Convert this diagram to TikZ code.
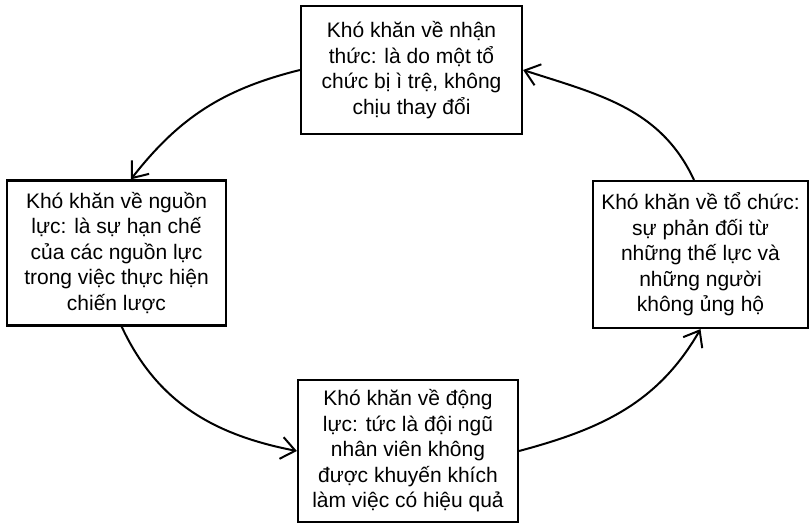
\documentclass[tikz,border=0pt]{standalone}
\usepackage{fontspec}
\setmainfont{Liberation Sans}
\usetikzlibrary{arrows.meta}
\tikzset{
  khobox/.style={draw, line width=2.2pt, inner sep=0pt, align=center,
    font=\fontsize{21}{25.5}\selectfont},
  vong/.style={line width=2pt,
    -{Straight Barb[length=14pt,width=22pt,line width=2pt]}}
}
\begin{document}
\begin{tikzpicture}[x=1pt,y=1pt]
  \useasboundingbox (0,0) rectangle (812,524);

  \node[khobox, minimum width=221, minimum height=128] (top) at (411.5,454)
    {Khó khăn về nhận\\thức: là do một tổ\\chức bị ì trệ, không\\chịu thay đổi};
  \node[khobox, minimum width=219, minimum height=145] (left) at (116.5,271)
    {Khó khăn về nguồn\\lực: là sự hạn chế\\của các nguồn lực\\trong việc thực hiện\\chiến lược};
  \node[khobox, minimum width=215, minimum height=147] (right) at (700.5,269.5)
    {Khó khăn về tổ chức:\\sự phản đối từ\\những thế lực và\\những người\\không ủng hộ};
  \node[khobox, minimum width=220, minimum height=142] (bottom) at (408,73)
    {Khó khăn về động\\lực: tức là đội ngũ\\nhân viên không\\được khuyến khích\\làm việc có hiệu quả};

  \draw[vong] (top.west) to[out=194,in=52] (left.79);
  \draw[vong] (left.-86) to[out=-65,in=169] (bottom.west);
  \draw[vong] (bottom.east) to[out=15,in=240] (right.south);
  \draw[vong] (right.95) to[out=115,in=-18] (top.east);
\end{tikzpicture}
\end{document}
